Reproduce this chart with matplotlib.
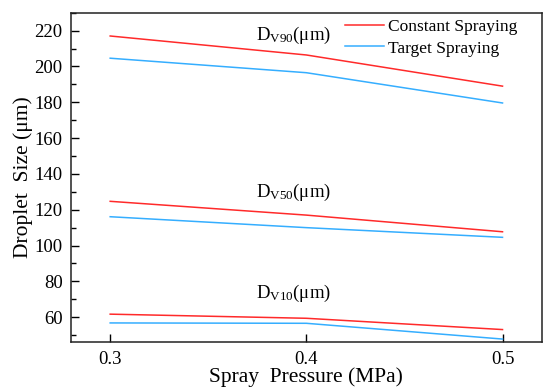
import numpy as np
import matplotlib
matplotlib.use('Agg')
import matplotlib.pyplot as plt
from matplotlib.ticker import MultipleLocator

plt.rcParams['font.family'] = ['Liberation Serif', 'DejaVu Serif']
plt.rcParams['mathtext.fontset'] = 'custom'
plt.rcParams['mathtext.rm'] = 'Liberation Serif'
plt.rcParams['mathtext.it'] = 'Liberation Serif:italic'

# data
pressure = [0.3, 0.4, 0.5]
const_dv90 = [217.0, 206.4, 189.0]
target_dv90 = [204.6, 196.5, 179.6]
const_dv50 = [124.7, 117.0, 107.7]
target_dv50 = [116.1, 110.0, 104.6]
const_dv10 = [61.7, 59.4, 53.1]
target_dv10 = [56.8, 56.6, 47.8]

red = '#FF2A2A'
blue = '#35AEFF'

fig = plt.figure(figsize=(5.5, 3.91), dpi=100)
ax = fig.add_axes([0.129, 0.1246, 0.8560, 0.8429])

ax.plot(pressure, const_dv90, color=red, lw=1.1, label='Constant Spraying')
ax.plot(pressure, target_dv90, color=blue, lw=1.1, label='Target Spraying')
ax.plot(pressure, const_dv50, color=red, lw=1.1)
ax.plot(pressure, target_dv50, color=blue, lw=1.1)
ax.plot(pressure, const_dv10, color=red, lw=1.1)
ax.plot(pressure, target_dv10, color=blue, lw=1.1)

ax.text(0.3745, 214.8, r'D$_{\mathrm{V90}}$(μm)', fontsize=13.5, va='baseline')
ax.text(0.3745, 127.3, r'D$_{\mathrm{V50}}$(μm)', fontsize=13.5, va='baseline')
ax.text(0.3745, 70.9, r'D$_{\mathrm{V10}}$(μm)', fontsize=13.5, va='baseline')

ax.set_xlim(0.28, 0.52)
ax.set_ylim(46, 230)
ax.set_xticks(pressure)
ax.set_xticklabels(['0.3', '0.4', '0.5'])
ax.yaxis.set_major_locator(MultipleLocator(20))
ax.yaxis.set_minor_locator(MultipleLocator(10))
ax.tick_params(axis='both', which='major', direction='in', length=6, width=1,
               labelsize=13.5, pad=6)
ax.tick_params(axis='y', which='minor', direction='in', length=3.5, width=1)
for s in ax.spines.values():
    s.set_linewidth(1.1)
    s.set_color('#222222')

ax.set_xlabel('Spray  Pressure (MPa)', fontsize=15.5, labelpad=0)
ax.set_ylabel('Droplet  Size (μm)', fontsize=15.5, labelpad=1)

ax.legend(loc='upper left', bbox_to_anchor=(345 / 550, 1 - 19 / 391),
          bbox_transform=fig.transFigure, frameon=False, fontsize=12.5,
          handlelength=2.25, handletextpad=0.25, borderpad=0, borderaxespad=0,
          labelspacing=0.3)

fig.savefig('out.png', dpi=100)
